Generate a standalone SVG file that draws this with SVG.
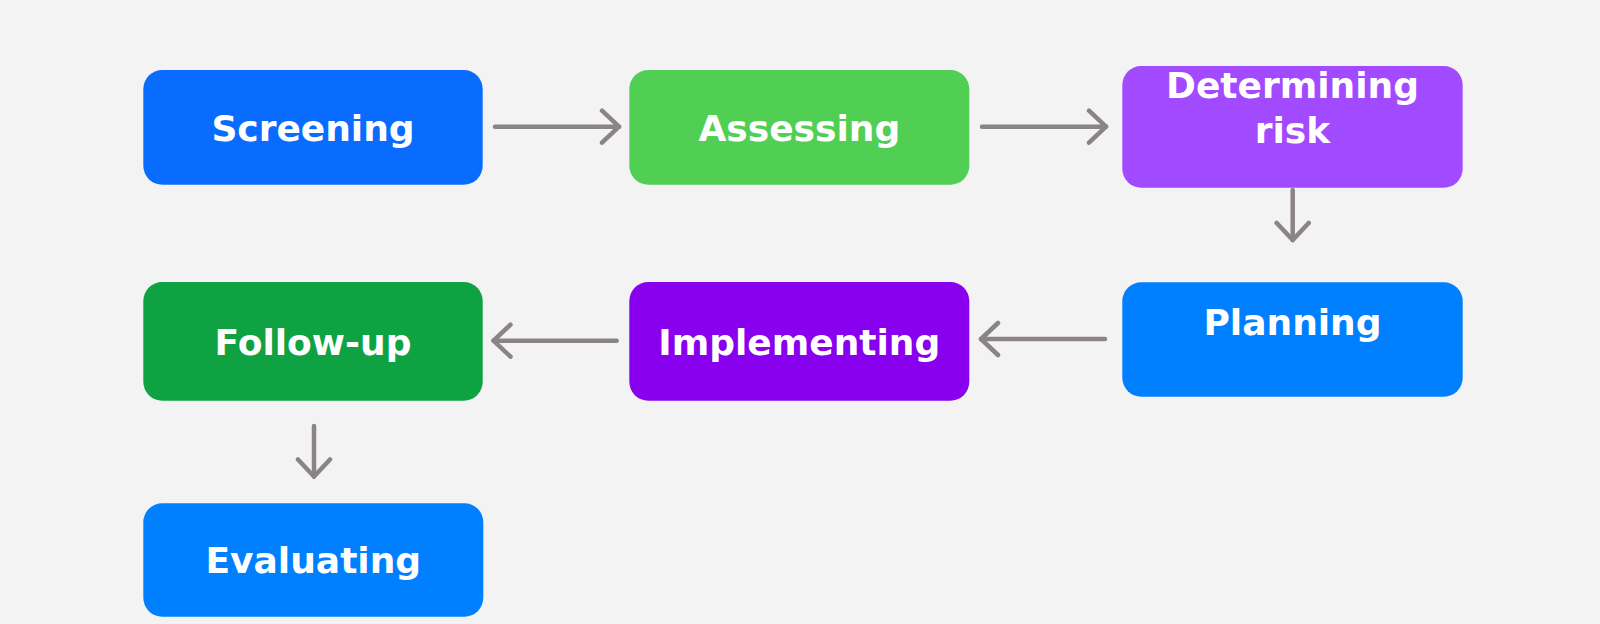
<svg xmlns="http://www.w3.org/2000/svg" width="1600" height="624" viewBox="0 0 1600 624">
<style>
.box{rx:19px;ry:19px}
.lbl{font-family:"DejaVu Sans","Verdana",sans-serif;font-weight:bold;font-size:36px;fill:#ffffff;text-anchor:middle}
.conn{stroke:#8a8484;stroke-width:4.5;fill:none;stroke-linecap:round;stroke-linejoin:round}
</style>
<defs>
<marker id="arr" viewBox="-20 -20 24 40" refX="0" refY="0" markerWidth="24" markerHeight="40" markerUnits="userSpaceOnUse" orient="auto">
<path d="M-17,-16 L0,0 L-17,16" fill="none" stroke="#8a8484" stroke-width="4.5" stroke-linecap="round" stroke-linejoin="round"/>
</marker>
</defs>
<rect width="1600" height="624" fill="#f3f3f3"/>
<g id="connectors" class="conn">
<line x1="495" y1="126.7" x2="619" y2="126.7" marker-end="url(#arr)"/>
<line x1="982" y1="126.7" x2="1106" y2="126.7" marker-end="url(#arr)"/>
<line x1="1292.7" y1="190" x2="1292.7" y2="240" marker-end="url(#arr)"/>
<line x1="1105" y1="339" x2="981" y2="339" marker-end="url(#arr)"/>
<line x1="616.7" y1="340.7" x2="493.5" y2="340.7" marker-end="url(#arr)"/>
<line x1="314" y1="426" x2="314" y2="476.5" marker-end="url(#arr)"/>
</g>
<g id="screening">
<rect class="box" x="143.3" y="70" width="339.4" height="114.7" fill="#0a6cff"/>
<text class="lbl" x="313" y="141">Screening</text>
</g>
<g id="assessing">
<rect class="box" x="629.3" y="70" width="340" height="114.7" fill="#51cf55"/>
<text class="lbl" x="799.3" y="141">Assessing</text>
</g>
<g id="determining">
<rect class="box" x="1122.3" y="66" width="340.4" height="121.7" fill="#a24aff"/>
<text class="lbl" x="1292.5" y="98">Determining</text>
<text class="lbl" x="1292.5" y="143">risk</text>
</g>
<g id="planning">
<rect class="box" x="1122.3" y="282.3" width="340.4" height="114.4" fill="#0080ff"/>
<text class="lbl" x="1292.5" y="334.5">Planning</text>
</g>
<g id="implementing">
<rect class="box" x="629.3" y="282" width="340" height="118.7" fill="#8800ee"/>
<text class="lbl" x="799.3" y="354.5">Implementing</text>
</g>
<g id="followup">
<rect class="box" x="143.3" y="282" width="339.4" height="118.7" fill="#0fa243"/>
<text class="lbl" x="313" y="354.5">Follow-up</text>
</g>
<g id="evaluating">
<rect class="box" x="143.3" y="503.3" width="340" height="113.4" fill="#0080ff"/>
<text class="lbl" x="313.3" y="573">Evaluating</text>
</g>
</svg>
